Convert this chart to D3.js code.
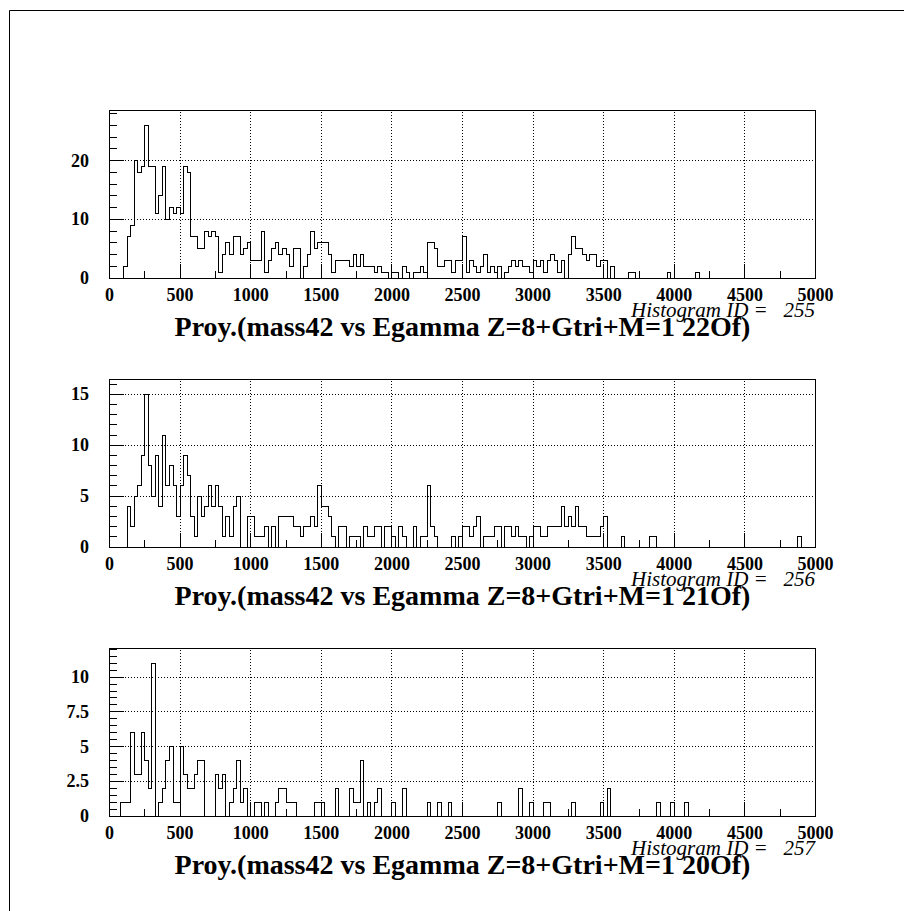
<!DOCTYPE html>
<html>
<head>
<meta charset="utf-8">
<script src="https://cdn.jsdelivr.net/npm/d3@7"></script>
<style>
  body { margin: 0; background: #fff; }
  svg { display: block; }
</style>
</head>
<body>
<svg id="page" width="904" height="911"></svg>
<script>
// Binning shared by the three projections: 200 bins of 25 from 0 to 5000
const binWidth = 25;
const xDomain = [0, 5000];
const xMajorTicks = [0, 500, 1000, 1500, 2000, 2500, 3000, 3500, 4000, 4500, 5000];
const xMinorStep = 250;

// Bin contents, histogram 255 (22Of)
const h255 = [
  0,0,0,0,2,7,9,20,18,19, 26,19,19,11,14,19,10,12,11,12,
  11,19,18,7,7,5,5,8,7,8, 7,1,4,6,4,7,7,4,5,6,
  3,3,3,8,1,3,5,6,4,5, 4,2,5,5,0,2,4,8,5,6,
  6,6,4,1,3,3,3,3,2,4, 2,4,2,2,2,1,2,1,1,0,
  1,1,0,2,1,0,1,1,2,1, 6,6,5,2,2,3,3,1,3,3,
  7,1,3,2,1,2,4,1,2,1, 2,0,1,2,3,2,3,2,2,1,
  3,2,3,1,3,4,3,1,3,0, 4,7,5,5,4,3,4,4,2,3,
  3,0,2,0,0,0,0,1,1,0, 0,0,0,0,0,0,0,0,1,0,
  0,0,0,0,0,0,1,0,0,0, 0,0,0,0,0,0,0,0,0,0,
  0,0,0,0,0,0,0,0,0,0, 0,0,0,0,0,0,0,0,0,0
];

// Bin contents, histogram 256 (21Of)
const h256 = [
  0,0,0,0,0,4,2,5,6,9, 15,8,5,9,4,11,6,8,6,3,
  6,9,7,3,1,5,3,4,6,4, 6,4,1,3,1,4,5,0,0,3,
  3,1,1,1,2,0,2,0,3,3, 3,3,2,2,1,2,2,3,2,6,
  4,4,3,1,0,2,2,0,1,1, 1,0,2,1,1,2,2,0,2,2,
  1,0,2,1,0,0,2,0,1,1, 6,2,1,0,0,0,0,1,0,1,
  2,2,1,2,3,0,1,1,1,2, 2,0,2,2,1,2,1,1,0,1,
  2,2,1,1,2,2,2,2,4,2, 3,2,4,2,2,1,1,1,1,2,
  3,0,0,0,0,1,0,0,0,0, 0,0,0,1,1,0,0,0,0,0,
  0,0,0,0,0,0,0,0,0,0, 0,0,0,0,0,0,0,0,0,0,
  0,0,0,0,0,0,0,0,0,0, 0,0,0,0,0,1,0,0,0,0
];

// Bin contents, histogram 257 (20Of)
const h257 = [
  0,0,0,1,1,1,6,3,3,6, 4,2,11,0,1,2,4,5,1,1,
  5,3,2,2,3,4,4,0,0,0, 3,2,3,0,1,2,4,1,2,0,
  0,1,1,0,1,0,0,1,2,2, 1,1,1,0,0,0,0,0,1,1,
  1,0,0,0,2,0,0,0,2,1, 1,4,0,1,0,1,2,0,0,0,
  1,0,0,2,0,0,0,0,0,0, 1,0,0,1,0,0,1,0,0,0,
  0,0,0,0,0,0,0,0,0,0, 1,0,0,0,0,0,2,0,0,1,
  0,0,0,1,1,0,0,0,0,0, 0,1,0,0,0,0,0,0,0,1,
  0,2,0,0,0,0,0,0,0,0, 0,0,0,0,0,1,0,0,0,1,
  0,0,0,1,0,0,0,0,0,0, 0,0,0,0,0,0,0,0,0,0,
  0,0,0,0,0,0,0,0,0,0, 0,0,0,0,0,0,0,0,0,0
];

const histIds = [255, 256, 257];
const titles = [
  "Proy.(mass42 vs Egamma Z=8+Gtri+M=1 22Of)",
  "Proy.(mass42 vs Egamma Z=8+Gtri+M=1 21Of)",
  "Proy.(mass42 vs Egamma Z=8+Gtri+M=1 20Of)"
];
const yMajorTicks = [[0, 10, 20], [0, 5, 10, 15], [0, 2.5, 5, 7.5, 10]];
const yMinorSteps = [2, 1, 0.5];
const series = [h255, h256, h257];

const svg = d3.select("#page");
const serif = "'Liberation Serif', 'Times New Roman', serif";

// Page frame (left and top edges of the sheet)
svg.append("path")
  .attr("d", "M9.5,911 V10.5 H904")
  .attr("fill", "none").attr("stroke", "#000").attr("stroke-width", 1);

const plotLeft = 109.5, plotRight = 815.5, plotHeight = 168;
const plotTops = [110, 379, 648];

series.forEach((counts, k) => {
  const top = plotTops[k], bottom = top + plotHeight;
  const yMax = d3.max(counts) * 1.1;
  const x = d3.scaleLinear().domain(xDomain).range([plotLeft, plotRight]);
  const y = d3.scaleLinear().domain([0, yMax]).range([bottom, top]);
  const g = svg.append("g");

  // Dotted grid at the labelled ticks
  const grid = g.append("g").attr("stroke", "#000").attr("stroke-width", 1)
    .attr("stroke-dasharray", "1,2").attr("shape-rendering", "crispEdges");
  xMajorTicks.filter(v => v > xDomain[0] && v < xDomain[1]).forEach(v => {
    grid.append("line").attr("x1", x(v)).attr("x2", x(v)).attr("y1", bottom).attr("y2", top);
  });
  yMajorTicks[k].filter(v => v > 0).forEach(v => {
    grid.append("line").attr("x1", plotLeft).attr("x2", plotRight).attr("y1", y(v)).attr("y2", y(v));
  });

  // Histogram outline (step contour through the bin edges)
  const pts = [[xDomain[0], 0]];
  counts.forEach((c, i) => {
    pts.push([i * binWidth, c]);
    pts.push([(i + 1) * binWidth, c]);
  });
  pts.push([xDomain[1], 0]);
  g.append("path")
    .attr("d", d3.line().x(d => x(d[0])).y(d => y(d[1]))(pts))
    .attr("fill", "none").attr("stroke", "#000").attr("stroke-width", 1)
    .attr("shape-rendering", "crispEdges");

  // Frame
  g.append("rect")
    .attr("x", plotLeft).attr("y", top).attr("width", plotRight - plotLeft).attr("height", plotHeight)
    .attr("fill", "none").attr("stroke", "#000").attr("stroke-width", 1)
    .attr("shape-rendering", "crispEdges");

  // Axis ticks, pointing into the frame
  const ticks = g.append("g").attr("stroke", "#000").attr("stroke-width", 1)
    .attr("shape-rendering", "crispEdges");
  d3.range(xDomain[0], xDomain[1] + 1, xMinorStep).forEach(v => {
    const len = xMajorTicks.includes(v) ? 14 : 7;
    ticks.append("line").attr("x1", x(v)).attr("x2", x(v)).attr("y1", bottom).attr("y2", bottom - len);
  });
  const step = yMinorSteps[k];
  for (let i = 0; i * step <= yMax + 1e-9; i++) {
    const v = i * step;
    const major = yMajorTicks[k].some(t => Math.abs(t - v) < 1e-9);
    ticks.append("line").attr("x1", plotLeft).attr("x2", plotLeft + (major ? 14 : 7))
      .attr("y1", y(v)).attr("y2", y(v));
  }

  // Tick labels
  g.append("g").selectAll("text").data(xMajorTicks).join("text")
    .attr("x", d => x(d)).attr("y", bottom + 23)
    .attr("text-anchor", "middle")
    .attr("font-family", serif).attr("font-weight", "bold").attr("font-size", 18)
    .text(d => d);
  g.append("g").selectAll("text").data(yMajorTicks[k]).join("text")
    .attr("x", 89).attr("y", d => y(d) + 6)
    .attr("text-anchor", "end")
    .attr("font-family", serif).attr("font-weight", "bold").attr("font-size", 18)
    .text(d => d);

  // Identifier and title
  g.append("text")
    .attr("x", 815).attr("y", bottom + 39)
    .attr("text-anchor", "end")
    .attr("font-family", serif).attr("font-style", "italic").attr("font-size", 21)
    .attr("xml:space", "preserve")
    .text("Histogram ID =   " + histIds[k]);
  g.append("text")
    .attr("x", (plotLeft + plotRight) / 2).attr("y", bottom + 58)
    .attr("text-anchor", "middle")
    .attr("font-family", serif).attr("font-weight", "bold").attr("font-size", 28)
    .text(titles[k]);
});
</script>
</body>
</html>
